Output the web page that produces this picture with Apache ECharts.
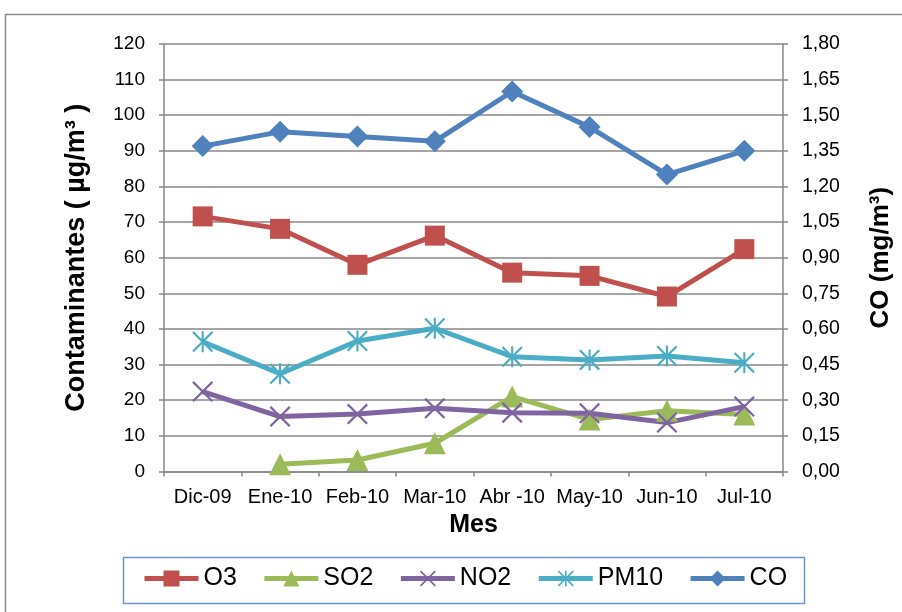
<!DOCTYPE html>
<html>
<head>
<meta charset="utf-8">
<script src="https://cdn.jsdelivr.net/npm/echarts@6/dist/echarts.min.js"></script>
<style>
  html, body { margin: 0; padding: 0; background: #fff; }
  #chart { width: 902px; height: 612px; }
</style>
</head>
<body>
<div id="chart"></div>
<script>
// Monthly air-quality averages (µg/m³, CO in mg/m³)
const months = ['Dic-09', 'Ene-10', 'Feb-10', 'Mar-10', 'Abr -10', 'May-10', 'Jun-10', 'Jul-10'];
const o3   = [71.6, 68.1, 58.0, 66.2, 55.8, 54.9, 49.1, 62.4];
const so2  = ['-', 2.0, 3.2, 7.9, 21.0, 14.6, 17.0, 16.0];
const no2  = [22.4, 15.4, 16.1, 17.7, 16.5, 16.3, 13.7, 18.2];
const pm10 = [36.4, 27.4, 36.6, 40.2, 32.2, 31.3, 32.4, 30.5];
const co   = [1.37, 1.43, 1.41, 1.39, 1.60, 1.45, 1.25, 1.35];

const FONT = '"Liberation Sans", Arial, sans-serif';
const GRID_GREY = '#878787';
const LINE_W = 5;

// marker outlines drawn as filled shapes
const crossPath = 'path://M0,1.5L1.5,0L10,8.5L18.5,0L20,1.5L11.5,10L20,18.5L18.5,20L10,11.5L1.5,20L0,18.5L8.5,10Z';
const starPath = 'path://M9,0L11,0L11,20L9,20Z M0,1.5L1.5,0L20,18.5L18.5,20Z M18.5,0L20,1.5L1.5,20L0,18.5Z';

function lineSeries(name, data, color, symbol, size, axis) {
  return {
    name: name,
    type: 'line',
    data: data,
    yAxisIndex: axis,
    symbol: symbol,
    symbolSize: size,
    showAllSymbol: true,
    connectNulls: false,
    lineStyle: { color: color, width: LINE_W },
    itemStyle: { color: color },
    emphasis: { disabled: true },
    animation: false
  };
}

const chart = echarts.init(document.getElementById('chart'));
chart.setOption({
  backgroundColor: '#ffffff',
  animation: false,
  textStyle: { fontFamily: FONT },
  grid: { left: 164, right: 119, top: 44, bottom: 140.6, containLabel: false },
  graphic: [
    {
      type: 'rect', silent: true, z: -1,
      shape: { x: 5.5, y: 14.5, width: 1000, height: 700 },
      style: { fill: 'none', stroke: '#8a8a8a', lineWidth: 1.5 }
    },
    {
      type: 'rect', silent: true,
      shape: { x: 123.5, y: 557.5, width: 681, height: 46 },
      style: { fill: 'none', stroke: '#6f95c8', lineWidth: 1.5 }
    }
  ],
  legend: {
    left: 142,
    top: 566,
    padding: 0,
    itemWidth: 54,
    itemHeight: 20,
    itemGap: 25,
    lineStyle: { width: LINE_W },
    textStyle: { fontSize: 25, color: '#000', fontFamily: FONT },
    data: ['O3', 'SO2', 'NO2', 'PM10', 'CO']
  },
  xAxis: {
    type: 'category',
    data: months,
    boundaryGap: true,
    name: 'Mes',
    nameLocation: 'middle',
    nameGap: 41,
    nameTextStyle: { fontSize: 25, fontWeight: 'bold', color: '#000', fontFamily: FONT },
    axisLine: { lineStyle: { color: GRID_GREY, width: 1.5 } },
    axisTick: { show: true, alignWithLabel: false, length: 5, lineStyle: { color: GRID_GREY, width: 1.5 } },
    axisLabel: { fontSize: 20, color: '#000', margin: 16, interval: 0, fontFamily: FONT }
  },
  yAxis: [
    {
      type: 'value',
      min: 0, max: 120, interval: 10,
      position: 'left',
      name: 'Contaminantes ( µg/m³ )',
      nameLocation: 'middle',
      nameRotate: 90,
      nameGap: 74,
      nameTextStyle: { fontSize: 27, fontWeight: 'bold', color: '#000', fontFamily: FONT },
      axisLine: { show: true, lineStyle: { color: GRID_GREY, width: 1.5 } },
      axisTick: { show: true, length: 5, lineStyle: { color: GRID_GREY, width: 1.5 } },
      axisLabel: { fontSize: 19, color: '#000', margin: 19, fontFamily: FONT },
      splitLine: { show: true, lineStyle: { color: GRID_GREY, width: 1.5 } }
    },
    {
      type: 'value',
      min: 0, max: 1.8, interval: 0.15,
      position: 'right',
      name: 'CO (mg/m³)',
      nameLocation: 'middle',
      nameRotate: 90,
      nameGap: 85,
      nameTextStyle: { fontSize: 26, fontWeight: 'bold', color: '#000', fontFamily: FONT },
      axisLine: { show: true, lineStyle: { color: GRID_GREY, width: 1.5 } },
      axisTick: { show: true, length: 5, lineStyle: { color: GRID_GREY, width: 1.5 } },
      axisLabel: {
        fontSize: 19.5, color: '#000', margin: 19, fontFamily: FONT,
        formatter: v => v.toFixed(2).replace('.', ',')
      },
      splitLine: { show: false }
    }
  ],
  series: [
    lineSeries('O3', o3, '#C0504D', 'rect', 20, 0),
    lineSeries('SO2', so2, '#9BBB59', 'triangle', 22, 0),
    lineSeries('NO2', no2, '#8064A2', crossPath, 21, 0),
    lineSeries('PM10', pm10, '#4BACC6', starPath, 21, 0),
    lineSeries('CO', co, '#4F81BD', 'diamond', 22, 1)
  ]
});
</script>
</body>
</html>
